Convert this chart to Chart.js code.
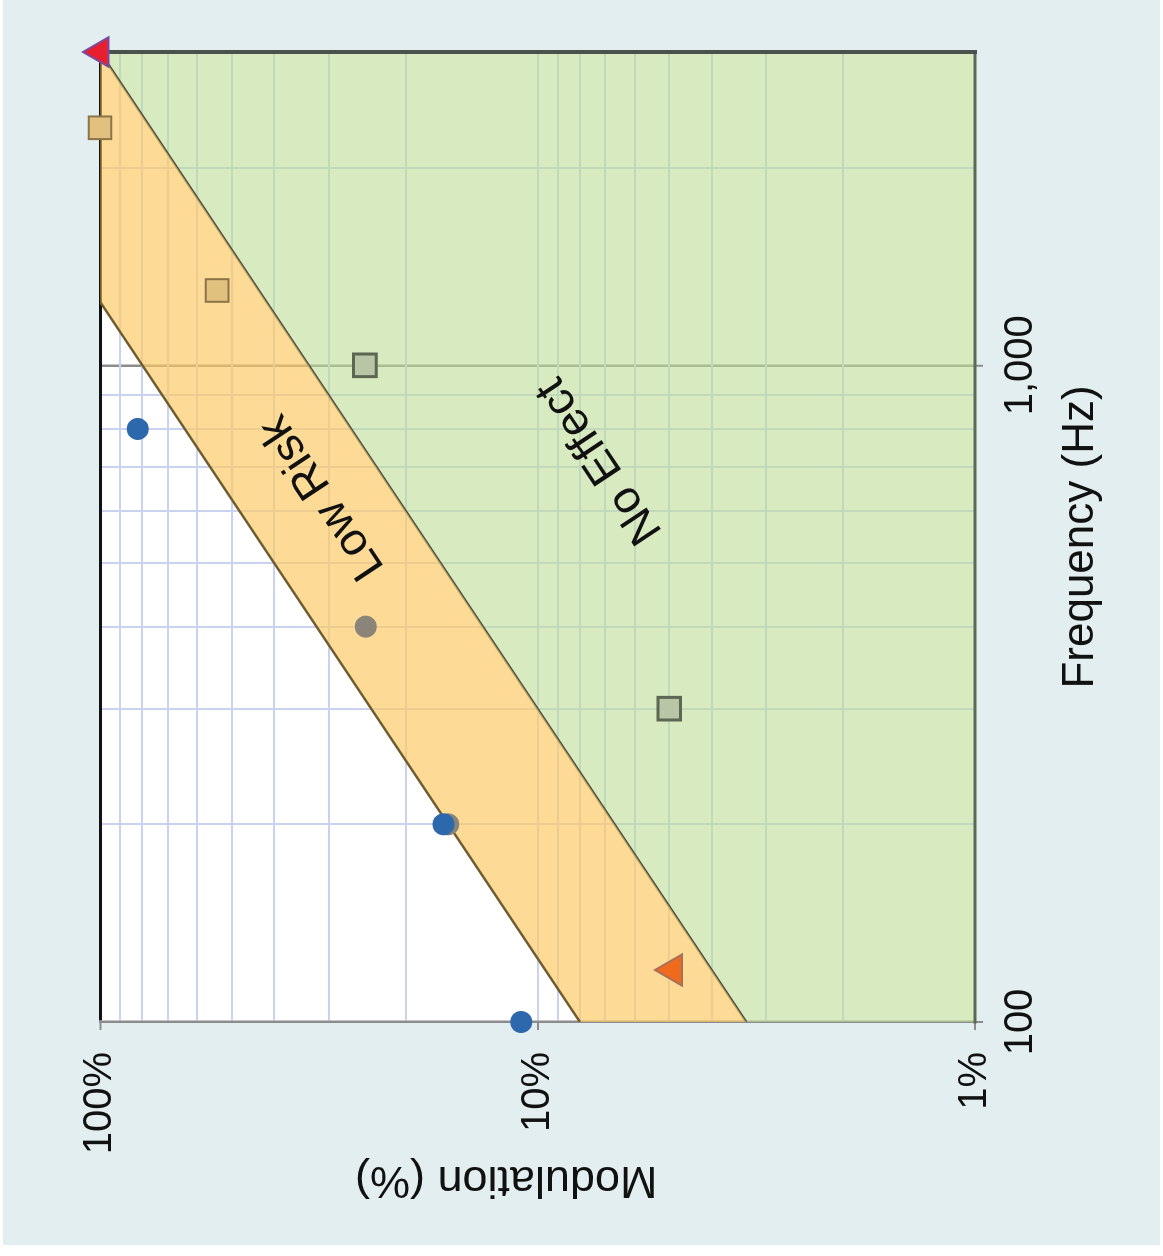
<!DOCTYPE html>
<html><head><meta charset="utf-8">
<script src="https://cdn.jsdelivr.net/npm/chart.js@4.4.1/dist/chart.umd.min.js"></script>
<style>
html,body{margin:0;padding:0;background:#fff;width:1163px;height:1256px;overflow:hidden;}
#wrap{position:absolute;left:0;top:0;width:1256px;height:1163px;transform-origin:0 0;transform:translateY(1256px) rotate(-90deg);}
canvas{display:block;}
</style></head><body>
<div id="wrap"><canvas id="c" width="1256" height="1163"></canvas></div>
<script>
// ---- axis grid / tick data ----
const freqGridValues = [100,200,300,400,500,600,700,800,900,1000,2000,3000];
const modGridValues = [1,2,3,4,5,6,7,8,9,10,20,30,40,50,60,70,80,90,100];
const freqTickValues = [100, 1000];
const freqTickLabels = ['100', '1,000'];
const modTickValues = [1, 10, 100];
const modTickLabels = ['1%', '10%', '100%'];

// ---- region boundaries ----
const lowRiskFreq = [100, 1250, 3000];
const lowRiskMod = [8, 100, 100];
const noEffectFreq = [100, 1250, 3000];
const noEffectMod = [3.333, 41.67, 100];
const regionLabels = ['Low Risk', 'No Effect'];

// ---- measured points ----
const blueFreq = [800, 200, 100];
const blueMod = [82, 16.4, 10.9];
const greyCircFreq = [400, 200];
const greyCircMod = [24.7, 16];
const tanSqFreq = [2300, 1300];
const tanSqMod = [100, 54];
const greenSqFreq = [1000, 300];
const greenSqMod = [24.8, 5];
const orangeTriFreq = [120];
const orangeTriMod = [4.9];
const redTriFreq = [3000];
const redTriMod = [100];

const pts = (f, m) => f.map((x, i) => ({x: x, y: m[i]}));
const FONT = '"Liberation Sans", Arial, Helvetica, sans-serif';
Chart.defaults.font.family = FONT;

const bgPlugin = {
  id: 'bg',
  beforeDraw(chart) {
    const c = chart.ctx, a = chart.chartArea;
    c.save();
    c.fillStyle = '#ffffff';
    c.fillRect(0, 0, chart.width, chart.height);
    c.fillStyle = '#e3eef0';
    c.fillRect(11, 3, 1245, 1157);
    c.fillStyle = '#ffffff';
    c.fillRect(a.left, a.top, a.right - a.left, a.bottom - a.top);
    c.restore();
  }
};

const overlayPlugin = {
  id: 'overlay',
  afterDatasetDraw(chart, args) {
    if (args.index !== 0) return;
    const c = chart.ctx, a = chart.chartArea, xs = chart.scales.x, ys = chart.scales.y;
    c.save();
    c.lineCap = 'square';
    c.strokeStyle = '#5a6856'; c.lineWidth = 3;
    c.beginPath(); c.moveTo(a.left, a.bottom); c.lineTo(a.right, a.bottom); c.stroke();
    c.strokeStyle = '#4a524e'; c.lineWidth = 4;
    c.beginPath(); c.moveTo(a.right, a.top); c.lineTo(a.right, a.bottom); c.stroke();
    const ang = Math.atan2(
      ys.getPixelForValue(lowRiskMod[1]) - ys.getPixelForValue(lowRiskMod[0]),
      xs.getPixelForValue(lowRiskFreq[1]) - xs.getPixelForValue(lowRiskFreq[0]));
    c.font = '46px ' + FONT;
    c.fillStyle = '#111';
    c.textAlign = 'center';
    c.textBaseline = 'middle';
    const anchors = [[630, 31], [716, 7.2]];
    anchors.forEach((p, i) => {
      c.save();
      c.translate(xs.getPixelForValue(p[0]), ys.getPixelForValue(p[1]));
      c.rotate(ang);
      c.fillText(regionLabels[i], 0, 0);
      c.restore();
    });
    c.restore();
  }
};

const minorGrid = '#c9d3f0';

new Chart(document.getElementById('c'), {
  type: 'scatter',
  data: {
    datasets: [
      {label: 'Low Risk', data: pts(lowRiskFreq, lowRiskMod), showLine: true, borderColor: '#6f5c31', borderWidth: 2.5,
       backgroundColor: 'rgba(252,200,100,0.68)', fill: '+1', pointRadius: 0, order: 10},
      {label: 'No Effect', data: pts(noEffectFreq, noEffectMod), showLine: true, borderColor: '#3f4a43', borderWidth: 2.5,
       backgroundColor: 'rgba(190,220,150,0.6)', fill: 'start', pointRadius: 0, order: 10},
      {label: 'A', data: pts(blueFreq, blueMod), pointStyle: 'circle', pointRadius: 11, backgroundColor: '#2d68ad', borderColor: '#2d68ad', borderWidth: 0, clip: false},
      {label: 'B', data: pts(greyCircFreq, greyCircMod), pointStyle: 'circle', pointRadius: 11, backgroundColor: '#8b8478', borderColor: '#8b8478', borderWidth: 0, clip: false},
      {label: 'C', data: pts(tanSqFreq, tanSqMod), pointStyle: 'rect', pointRadius: 16, backgroundColor: '#e2c17f', borderColor: '#8a7448', borderWidth: 2, clip: false},
      {label: 'D', data: pts(greenSqFreq, greenSqMod), pointStyle: 'rect', pointRadius: 16, backgroundColor: '#b9c6a6', borderColor: '#5b6752', borderWidth: 3, clip: false},
      {label: 'E', data: pts(orangeTriFreq, orangeTriMod), pointStyle: 'triangle', pointRadius: 18, backgroundColor: '#f06a1e', borderColor: '#a8705a', borderWidth: 2, clip: false},
      {label: 'F', data: pts(redTriFreq, redTriMod), pointStyle: 'triangle', pointRadius: 17, backgroundColor: '#e8202e', borderColor: '#7a4aa0', borderWidth: 2, clip: false}
    ]
  },
  options: {
    responsive: false,
    animation: false,
    devicePixelRatio: 1,
    layout: {padding: {left: 0, top: 100, right: 52, bottom: 0}},
    plugins: {legend: {display: false}, tooltip: {enabled: false}},
    scales: {
      x: {
        type: 'logarithmic', position: 'bottom', min: 100, max: 3000,
        afterBuildTicks: s => { s.ticks = freqGridValues.map(v => ({value: v})); },
        afterFit: s => { s.height = 188; },
        ticks: {
          autoSkip: false, maxRotation: 0, minRotation: 0, padding: 14, color: '#111',
          font: {size: 40},
          callback: v => { const i = freqTickValues.indexOf(v); return i >= 0 ? freqTickLabels[i] : ''; }
        },
        grid: {
          color: ctx => (ctx.tick && (ctx.tick.value === 1000 || ctx.tick.value === 100)) ? '#8c8c8c' : minorGrid,
          lineWidth: ctx => (ctx.tick && ctx.tick.value === 1000) ? 2.5 : 2,
          tickLength: 8,
          tickColor: ctx => (ctx.tick && freqTickValues.includes(ctx.tick.value)) ? '#8c8c8c' : 'rgba(0,0,0,0)',
          tickWidth: 2
        },
        border: {display: false},
        title: {display: true, text: 'Frequency (Hz)', color: '#111', font: {size: 44}, padding: {top: 0, bottom: 56}}
      },
      y: {
        type: 'logarithmic', position: 'left', min: 1, max: 100,
        afterBuildTicks: s => { s.ticks = modGridValues.map(v => ({value: v})); },
        afterFit: s => { s.width = 234; },
        ticks: {
          autoSkip: false, padding: 22, color: '#111',
          font: {size: 40},
          callback: v => { const i = modTickValues.indexOf(v); return i >= 0 ? modTickLabels[i] : ''; }
        },
        grid: {
          color: ctx => (ctx.tick && ctx.tick.value === 100) ? '#111111' : minorGrid,
          lineWidth: ctx => (ctx.tick && ctx.tick.value === 100) ? 3 : 2,
          tickLength: 8,
          tickColor: ctx => (ctx.tick && modTickValues.includes(ctx.tick.value)) ? '#8c8c8c' : 'rgba(0,0,0,0)',
          tickWidth: 2
        },
        border: {display: true, color: '#8c8c8c', width: 2.5},
        title: {display: true, text: '\u00A0\u00A0\u00A0\u00A0\u00A0Modulation (%)', color: '#111', font: {size: 45}, padding: {top: 50, bottom: 0}}
      }
    }
  },
  plugins: [bgPlugin, overlayPlugin]
});
</script>
</body></html>
